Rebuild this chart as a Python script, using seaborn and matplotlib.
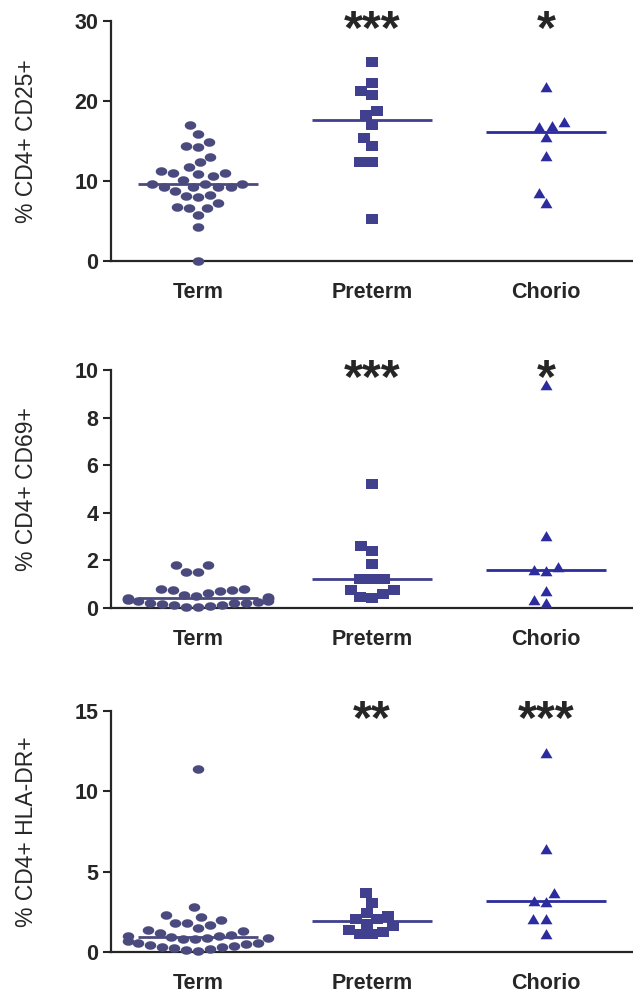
import warnings
import numpy as np
import pandas as pd
import matplotlib
matplotlib.use("Agg")
import matplotlib.pyplot as plt
from matplotlib.path import Path
import seaborn as sns

warnings.filterwarnings("ignore")

groups = ["Term", "Preterm", "Chorio"]
colors = ["#4b4a7e", "#40408f", "#2c2c9e"]

# % CD4+ CD25+
cd25_term = [17.0, 15.9, 14.9, 14.4, 14.2, 13.0, 12.3, 11.7, 11.2, 11.0, 11.0,
             10.8, 10.6, 10.1, 9.6, 9.6, 9.6, 9.3, 9.2, 9.2, 9.2, 8.8, 8.2,
             8.1, 8.0, 7.2, 6.7, 6.6, 6.6, 5.7, 4.2, 0.0]
cd25_preterm = [24.8, 22.2, 21.2, 20.7, 18.7, 18.2, 17.0, 15.4, 14.4, 12.3, 12.3, 5.2]
cd25_chorio = [21.7, 17.4, 16.8, 16.7, 15.5, 13.1, 8.5, 7.3]

# % CD4+ CD69+
cd69_term = [1.8, 1.8, 1.5, 1.5, 0.8, 0.8, 0.75, 0.75, 0.7, 0.6, 0.55, 0.5,
             0.45, 0.42, 0.4, 0.4, 0.38, 0.38, 0.35, 0.32, 0.3, 0.28, 0.25,
             0.22, 0.2, 0.18, 0.15, 0.12, 0.1, 0.08, 0.05, 0.02]
cd69_preterm = [5.19, 2.59, 2.4, 1.82, 1.21, 1.21, 1.21, 0.74, 0.74, 0.58, 0.46, 0.43]
cd69_chorio = [9.37, 3.03, 1.7, 1.6, 1.55, 0.72, 0.32, 0.18]

# % CD4+ HLA-DR+
hla_term = [11.4, 2.8, 2.3, 2.2, 2.0, 1.8, 1.8, 1.7, 1.5, 1.4, 1.3, 1.2, 1.1,
            1.0, 1.0, 0.95, 0.9, 0.9, 0.85, 0.8, 0.7, 0.6, 0.55, 0.5, 0.45,
            0.4, 0.35, 0.3, 0.25, 0.2, 0.15, 0.1]
hla_preterm = [3.66, 3.08, 2.46, 2.26, 2.09, 2.09, 1.75, 1.63, 1.39, 1.28, 1.14, 1.14]
hla_chorio = [12.39, 6.39, 3.7, 3.21, 3.14, 2.09, 2.05, 1.14]

ylabels = ["% CD4+ CD25+", "% CD4+ CD69+", "% CD4+ HLA-DR+"]
ymax = [30, 10, 15]
yticks = [[0, 10, 20, 30], [0, 2, 4, 6, 8, 10], [0, 5, 10, 15]]
stars = [["", "***", "*"], ["", "***", "*"], ["", "**", "***"]]

panels = [
    [cd25_term, cd25_preterm, cd25_chorio],
    [cd69_term, cd69_preterm, cd69_chorio],
    [hla_term, hla_preterm, hla_chorio],
]

# the original figure is a bit wider than tall, so markers are squashed
t = np.linspace(0, 2 * np.pi, 40)
ellipse = Path(np.column_stack([np.cos(t), 0.74 * np.sin(t)]), closed=True)
rect = Path([(-1, -0.85), (1, -0.85), (1, 0.85), (-1, 0.85), (-1, -0.85)], closed=True)
tri = Path([(-1, -0.8), (1, -0.8), (0, 0.9), (-1, -0.8)], closed=True)
markers = [ellipse, rect, tri]
msizes = [8.3, 8.0, 8.6]

sns.set_style("ticks")
plt.rcParams["font.family"] = ["Liberation Sans", "DejaVu Sans"]

fig = plt.figure(figsize=(6.33, 9.94), dpi=100)
# axes boxes in figure fraction: left, bottom, width, height
boxes = [[0.1754, 0.7374, 0.8246, 0.2418],
         [0.1754, 0.3886, 0.8246, 0.2391],
         [0.1754, 0.0420, 0.8246, 0.2430]]

for i, vals in enumerate(panels):
    ax = fig.add_axes(boxes[i])
    ax.set_xlim(-0.5, 2.5)
    ax.set_ylim(0, ymax[i])
    df = pd.DataFrame({
        "group": np.repeat(groups, [len(v) for v in vals]),
        "value": np.concatenate(vals),
    })
    for g, m, c, s in zip(groups, markers, colors, msizes):
        sub = df[df["group"] == g]
        sns.swarmplot(data=sub, x="group", y="value", order=groups, ax=ax,
                      marker=m, color=c, size=s, linewidth=0, zorder=3)
        sns.boxplot(data=sub, x="group", y="value", order=groups, ax=ax,
                    width=0.69, showbox=False, showcaps=False, showfliers=False,
                    whiskerprops={"visible": False},
                    medianprops={"color": c, "linewidth": 2.0, "zorder": 4})
    for coll in ax.collections:
        coll.set_clip_on(False)

    ax.set_xlim(-0.5, 2.5)
    ax.set_ylim(0, ymax[i])
    ax.set_yticks(yticks[i])
    ax.set_xlabel("")
    ax.set_ylabel(ylabels[i], fontsize=16.5)
    ax.yaxis.set_label_coords(-0.14, 0.5)
    sns.despine(ax=ax)
    ax.spines["left"].set_linewidth(1.6)
    ax.spines["bottom"].set_linewidth(1.6)
    ax.tick_params(axis="y", length=6, width=1.5, pad=3, labelsize=15.5)
    ax.tick_params(axis="x", length=0, pad=15, labelsize=15.5)
    for lab in ax.get_xticklabels() + ax.get_yticklabels():
        lab.set_fontweight("bold")

    for j, s in enumerate(stars[i]):
        if s:
            ax.text(j, ymax[i] * 0.96, s, ha="center", va="center",
                    fontsize=35, fontweight="bold", clip_on=False)

fig.savefig("out.png", dpi=100)
